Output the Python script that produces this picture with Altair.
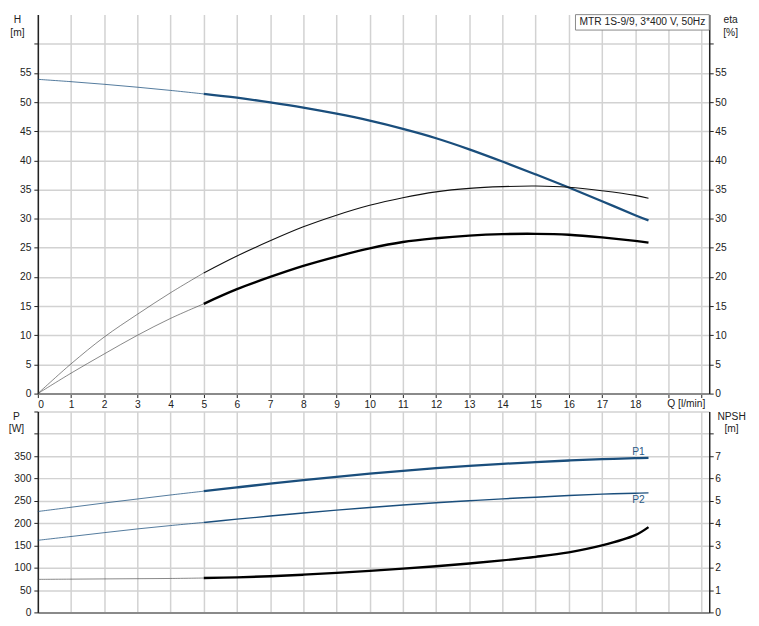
import altair as alt
import pandas as pd

# ---------------- data ----------------
Q = [0, 1, 2, 3, 4, 5, 6, 7, 8, 9, 10, 11, 12, 13, 14, 15, 16, 17, 18, 18.4]
H = [53.9, 53.5, 53.05, 52.55, 52.0, 51.4, 50.75, 49.95, 49.05, 48.0, 46.8, 45.4, 43.8, 41.9, 39.8, 37.6, 35.35, 33.0, 30.6, 29.7]
ETA1 = [0, 5.1, 9.7, 13.6, 17.3, 20.7, 23.6, 26.2, 28.6, 30.6, 32.3, 33.6, 34.6, 35.2, 35.5, 35.6, 35.4, 34.8, 34.0, 33.5]
ETA2 = [0, 3.5, 6.8, 10.0, 12.9, 15.4, 17.9, 20.0, 21.9, 23.5, 24.9, 26.0, 26.65, 27.1, 27.35, 27.4, 27.25, 26.8, 26.2, 25.9]
P1 = [226, 235.5, 245, 254, 263, 271.5, 280, 288.3, 296.3, 303.8, 310.8, 317.2, 323, 328.3, 332.8, 336.7, 340.2, 343.2, 345.5, 346.2]
P2 = [161.5, 170, 178.6, 187, 194.5, 201.5, 208.8, 215.8, 222.5, 229, 235, 240.5, 245.5, 250, 254.4, 258, 261.7, 264.8, 267, 267.7]
NPSH = [1.48, 1.49, 1.5, 1.51, 1.52, 1.54, 1.57, 1.62, 1.69, 1.77, 1.86, 1.96, 2.07, 2.19, 2.33, 2.49, 2.69, 3.0, 3.46, 3.82]

X_TICKS = list(range(0, 21))
H_TICKS = list(range(0, 61, 5))
P_TICKS = list(range(0, 451, 50))
NPSH_TICKS = list(range(0, 9))
LEGEND_TEXT = "MTR 1S-9/9, 3*400 V, 50Hz"
CURVE_LABELS = ["P1", "P2"]
CURVE_LABEL_Q = [18.1, 18.1]
CURVE_LABEL_P = [360, 251]
BOX_Q = [16.2, 20.23]
BOX_H = [62.35, 65]
BOX_TEXT_POS = [16.32, 63.65]

# ---------------- layout / style ----------------
XMAX = 20.23
W, HT, HB = 675, 381, 202
FONT = "Liberation Sans"
FS = 10.3
TXT = "#222"
BLUE = "#1a4e7c"
INTERP = "catmull-rom"

df = pd.DataFrame({"Q": Q, "H": H, "eta1": ETA1, "eta2": ETA2, "P1": P1, "P2": P2, "NPSH": NPSH})
thin = df[df.Q <= 5]
thick = df[df.Q >= 5]

xscale = alt.Scale(domain=[0, XMAX], nice=False, zero=False)


def xenc(top, field="Q"):
    if top:
        axis = alt.Axis(values=X_TICKS, labelExpr="datum.value <= 18 ? datum.label : ''",
                        title="Q [l/min]", titleX=651.5, titleY=12.7, titleAlign="center",
                        titleBaseline="alphabetic", domainColor="#8a8a8a", domainWidth=2,
                        tickSize=4, labelPadding=2, grid=True)
    else:
        axis = alt.Axis(values=X_TICKS, labels=False, ticks=False, title=None,
                        domainColor="#8a8a8a", domainWidth=2, grid=True)
    return alt.X(f"{field}:Q", scale=xscale, axis=axis)


def yaxis(values, maxlab, title, right, tx):
    return alt.Axis(values=values, labelExpr=f"datum.value <= {maxlab} ? datum.label : ''",
                    title=title, titleAngle=0, titleX=tx, titleY=0, titleAlign="center",
                    titleBaseline="top", titleLineHeight=12.5,
                    orient="right" if right else "left", grid=not right,
                    labelPadding=1.5 if right else 3)


def line(data, xtop, field, yscale, yax, color, width, opacity=1.0):
    return alt.Chart(data).mark_line(color=color, strokeWidth=width, opacity=opacity,
                                     interpolate=INTERP).encode(
        x=xenc(xtop),
        y=alt.Y(f"{field}:Q", scale=yscale, axis=yax),
    )


# ---------------- top panel ----------------
hscale = alt.Scale(domain=[0, 65], nice=False, zero=False)
escale = alt.Scale(domain=[0, 65], nice=False, zero=False)
h_ax = yaxis(H_TICKS, 55, ["H", "[m]"], False, -21)
e_ax = yaxis(H_TICKS, 55, ["eta", "[%]"], True, 21)

box_df = pd.DataFrame({"x0": [BOX_Q[0]], "x1": [BOX_Q[1]], "y0": [BOX_H[0]], "y1": [BOX_H[1]]})
box = alt.Chart(box_df).mark_rect(fill="white", stroke="#8a8a8a", strokeWidth=1).encode(
    x=xenc(True, "x0"), x2="x1",
    y=alt.Y("y0:Q", scale=hscale, axis=h_ax), y2="y1",
)
box_txt_df = pd.DataFrame({"x": [BOX_TEXT_POS[0]], "y": [BOX_TEXT_POS[1]], "t": [LEGEND_TEXT]})
box_txt = alt.Chart(box_txt_df).mark_text(align="left", baseline="middle", font=FONT,
                                          fontSize=FS, color=TXT).encode(
    x=xenc(True, "x"), y=alt.Y("y:Q", scale=hscale, axis=h_ax), text="t:N")

left_top = alt.layer(
    line(thin, True, "H", hscale, h_ax, BLUE, 1.0, 0.75),
    line(thick, True, "H", hscale, h_ax, BLUE, 2.3),
    box, box_txt,
)
right_top = alt.layer(
    line(thin, True, "eta1", escale, e_ax, "#444", 0.8, 0.8),
    line(thick, True, "eta1", escale, e_ax, "#111", 1.1),
    line(thin, True, "eta2", escale, e_ax, "#444", 0.8, 0.8),
    line(thick, True, "eta2", escale, e_ax, "#000", 2.4),
)
top = alt.layer(left_top, right_top).resolve_scale(y="independent").properties(width=W, height=HT)

# ---------------- bottom panel ----------------
pscale = alt.Scale(domain=[0, 450], nice=False, zero=False)
nscale = alt.Scale(domain=[0, 9], nice=False, zero=False)
p_ax = yaxis(P_TICKS, 350, ["P", "[W]"], False, -22)
n_ax = yaxis(NPSH_TICKS, 7, ["NPSH", "[m]"], True, 22)

lab_df = pd.DataFrame({"Q": CURVE_LABEL_Q, "P": CURVE_LABEL_P, "t": CURVE_LABELS})
labels = alt.Chart(lab_df).mark_text(align="center", baseline="middle", font=FONT,
                                     fontSize=FS, color="#2a5985").encode(
    x=xenc(False), y=alt.Y("P:Q", scale=pscale, axis=p_ax), text="t:N")

left_bot = alt.layer(
    line(thin, False, "P1", pscale, p_ax, BLUE, 1.0, 0.75),
    line(thick, False, "P1", pscale, p_ax, BLUE, 2.3),
    line(thin, False, "P2", pscale, p_ax, BLUE, 1.0, 0.75),
    line(thick, False, "P2", pscale, p_ax, BLUE, 1.4),
    labels,
)
right_bot = alt.layer(
    line(thin, False, "NPSH", nscale, n_ax, "#444", 0.8, 0.8),
    line(thick, False, "NPSH", nscale, n_ax, "#000", 2.4),
)
bottom = alt.layer(left_bot, right_bot).resolve_scale(y="independent").properties(width=W, height=HB)

chart = alt.vconcat(top, bottom, spacing=18, bounds="flush").properties(
    padding={"left": 0, "top": 4, "right": 5, "bottom": 5}
).configure_view(stroke=None).configure_axis(
    labelFont=FONT, titleFont=FONT, labelFontSize=FS, titleFontSize=FS,
    labelColor=TXT, titleColor=TXT, titleFontWeight="normal",
    gridColor="#d2d2d2", gridWidth=1.5, tickColor="#222", tickSize=4, tickWidth=1,
    domainColor="#222", domainWidth=1.5,
)

chart.save("out.html", embed_options={"renderer": "svg", "actions": False})
